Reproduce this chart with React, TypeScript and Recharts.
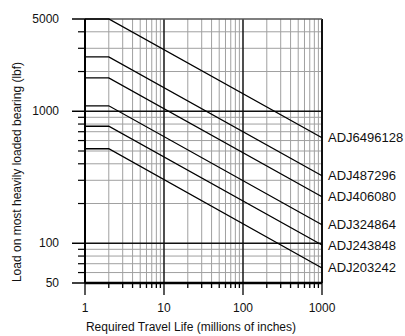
import React from 'react';
import { LineChart, Line, XAxis, YAxis, ReferenceLine } from 'recharts';

// travel life (millions of inches)
const lifeMajor = [1, 10, 100, 1000];
const lifeMinor = [2, 3, 4, 5, 6, 7, 8, 9, 20, 30, 40, 50, 60, 70, 80, 90, 200, 300, 400, 500, 600, 700, 800, 900];

// load (lbf)
const loadMajor = [50, 100, 1000, 5000];
const loadMinor = [60, 70, 80, 90, 200, 300, 400, 500, 600, 700, 800, 900, 2000, 3000, 4000];

const bearings = ['ADJ6496128', 'ADJ487296', 'ADJ406080', 'ADJ324864', 'ADJ243848', 'ADJ203242'];
const lifePoints = [1, 2, 1000];
const kneeLoads = [5000, 2580, 1790, 1100, 770, 520];
const endLoads = [630, 325, 225, 138, 97, 65];

const series = bearings.map((name, i) => ({
  name,
  data: [
    { life: lifePoints[0], load: kneeLoads[i] },
    { life: lifePoints[1], load: kneeLoads[i] },
    { life: lifePoints[2], load: endLoads[i] },
  ],
}));

const FONT = '"Liberation Sans", Arial, sans-serif';

const LifeTick = (props: any) => {
  const { x, y, payload } = props;
  const major = lifeMajor.includes(payload.value);
  return (
    <g>
      <line x1={x} x2={x} y1={y} y2={y + (major ? 12 : 5)} stroke="#000" strokeWidth={1.3} />
      {major && (
        <text x={x} y={y + 28.5} textAnchor="middle" fontSize={12} fontFamily={FONT} fill="#111">
          {payload.value}
        </text>
      )}
    </g>
  );
};

const LoadTick = (props: any) => {
  const { x, y, payload } = props;
  const major = loadMajor.includes(payload.value);
  return (
    <g>
      <line x1={x - (major ? 13 : 7)} x2={x} y1={y} y2={y} stroke="#000" strokeWidth={major ? 1.5 : 1.2} />
      {major && (
        <text x={x - 26} y={y + 4} textAnchor="end" fontSize={12} fontFamily={FONT} fill="#111">
          {payload.value}
        </text>
      )}
    </g>
  );
};

const xTitle = () => (
  <text x={191} y={330.5} textAnchor="middle" fontSize={12} fontFamily={FONT} fill="#111">
    Required Travel Life (millions of inches)
  </text>
);

const yTitle = () => (
  <text
    x={20.5}
    y={172}
    transform="rotate(-90, 20.5, 172)"
    textAnchor="middle"
    fontSize={12}
    fontFamily={FONT}
    fill="#111"
  >
    Load on most heavily loaded bearing (lbf)
  </text>
);

const endLabel = (name: string) => (props: any) => {
  const { x, y, index } = props;
  if (index !== 2) return <g />;
  return (
    <text x={x + 6} y={y + 4.5} fontSize={13} fontFamily={FONT} fill="#111">
      {name}
    </text>
  );
};

export default function App() {
  return (
    <div style={{ position: 'absolute', left: 0, top: 0, background: '#fff' }}>
      <LineChart width={405} height={336} margin={{ top: 19, right: 83, bottom: 0, left: 0 }}>
        <XAxis
          type="number"
          dataKey="life"
          scale="log"
          domain={[1, 1000]}
          ticks={[...lifeMajor, ...lifeMinor]}
          interval={0}
          tickSize={0}
          tickMargin={0}
          tick={<LifeTick />}
          axisLine={{ stroke: '#000', strokeWidth: 2.5 }}
          height={53}
          label={xTitle}
        />
        <YAxis
          type="number"
          dataKey="load"
          scale="log"
          domain={[50, 5000]}
          ticks={[...loadMajor, ...loadMinor]}
          interval={0}
          tickSize={0}
          tickMargin={0}
          tick={<LoadTick />}
          axisLine={{ stroke: '#000', strokeWidth: 2 }}
          width={85}
          label={yTitle}
        />
        {lifeMinor.map((v) => (
          <ReferenceLine key={'vx' + v} x={v} stroke="#a0a0a0" strokeWidth={1} />
        ))}
        {loadMinor.map((v) => (
          <ReferenceLine key={'hy' + v} y={v} stroke="#a0a0a0" strokeWidth={1} />
        ))}
        <ReferenceLine x={10} stroke="#222" strokeWidth={1.6} />
        <ReferenceLine x={100} stroke="#222" strokeWidth={1.6} />
        <ReferenceLine x={1000} stroke="#111" strokeWidth={2} />
        <ReferenceLine y={100} stroke="#111" strokeWidth={1.6} />
        <ReferenceLine y={1000} stroke="#111" strokeWidth={1.6} />
        <ReferenceLine y={5000} stroke="#555" strokeWidth={1.5} />
        {series.map((s) => (
          <Line
            key={s.name}
            data={s.data}
            dataKey="load"
            stroke="#000"
            strokeWidth={1.3}
            dot={false}
            isAnimationActive={false}
            label={endLabel(s.name)}
          />
        ))}
      </LineChart>
    </div>
  );
}
